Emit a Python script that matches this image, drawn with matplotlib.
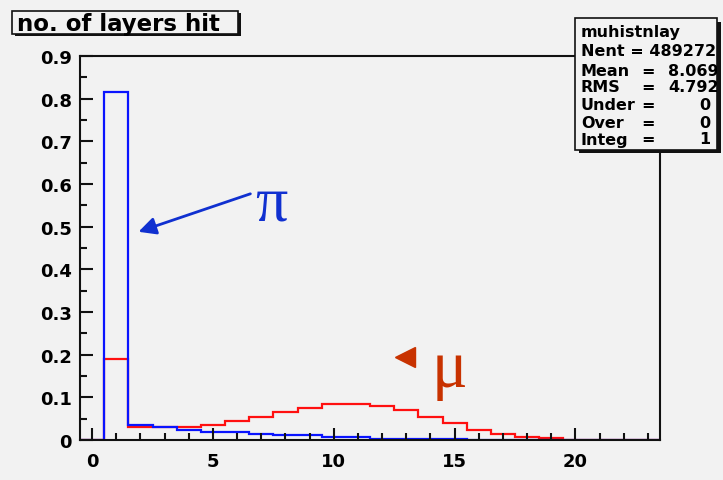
import matplotlib.pyplot as plt
from matplotlib.patches import Rectangle
from matplotlib.ticker import MultipleLocator
import numpy as np

# number of layers hit, bins centred on integers 0..23
bin_edges = np.arange(-0.5, 24.5, 1.0)
pion_frac = [0.0, 0.816, 0.035, 0.031, 0.023, 0.019, 0.019, 0.015, 0.011, 0.011,
             0.006, 0.006, 0.002, 0.002, 0.002, 0.002, 0.0, 0.0, 0.0, 0.0,
             0.0, 0.0, 0.0, 0.0]
muon_frac = [0.0, 0.190, 0.031, 0.030, 0.031, 0.035, 0.045, 0.053, 0.066, 0.074,
             0.084, 0.084, 0.079, 0.070, 0.054, 0.039, 0.023, 0.013, 0.008, 0.004,
             0.001, 0.0, 0.0, 0.0]

stat_names = ["Nent", "Mean", "RMS", "Under", "Over", "Integ"]
stat_values = ["489272", "8.069", "4.792", "0", "0", "1"]

bg = "#f2f2f2"
W, H = 723, 481
fig = plt.figure(figsize=(W / 100, H / 100), dpi=100, facecolor=bg)


def fx(px):
    return px / W


def fy(py):
    return 1 - py / H


ax = fig.add_axes([fx(80), fy(441), fx(660) - fx(80), fy(57) - fy(441)])
ax.set_facecolor(bg)

ax.stairs(muon_frac, bin_edges, color="#ff1010", lw=1.6, baseline=0)
ax.stairs(pion_frac, bin_edges, color="#0a14ff", lw=1.6, baseline=0)

ax.set_xlim(-0.5, 23.5)
ax.set_ylim(0, 0.9)
ax.xaxis.set_major_locator(MultipleLocator(5))
ax.xaxis.set_minor_locator(MultipleLocator(1))
ax.yaxis.set_major_locator(MultipleLocator(0.1))
ax.yaxis.set_minor_locator(MultipleLocator(0.05))
ax.yaxis.set_major_formatter(lambda v, p: "0" if abs(v) < 1e-9 else f"{v:.1f}")

ax.tick_params(which="both", direction="in", width=1.5, color="#111111",
               top=False, right=False)
ax.tick_params(which="major", length=9)
ax.tick_params(which="minor", length=5)
ax.tick_params(axis="x", pad=9)
ax.tick_params(axis="y", pad=6)
for lab in ax.get_xticklabels() + ax.get_yticklabels():
    lab.set_fontweight("bold")
    lab.set_fontsize(13)
for sp in ax.spines.values():
    sp.set_linewidth(1.5)
    sp.set_color("#111111")

# particle labels
ax.annotate("", xy=(1.92, 0.488), xytext=(6.55, 0.577),
            arrowprops=dict(arrowstyle="-|>", color="#1030d0", lw=2,
                            mutation_scale=26, shrinkA=0, shrinkB=0))
ax.text(7.42, 0.551, "π", color="#1030d0", fontsize=46, family="Liberation Serif",
        ha="center", va="center")
ax.plot([12.95], [0.195], marker="<", ms=15, color="#c83200", clip_on=False)
ax.text(14.8, 0.165, "μ", color="#c83200", fontsize=48, family="Liberation Serif",
        ha="center", va="center")

# title box
fig.patches.append(Rectangle((fx(15), fy(37)), fx(241) - fx(15), fy(14) - fy(37),
                             transform=fig.transFigure, facecolor="#111111",
                             edgecolor="none", zorder=4))
fig.patches.append(Rectangle((fx(12), fy(35)), fx(238) - fx(12), fy(12) - fy(35),
                             transform=fig.transFigure, facecolor=bg,
                             edgecolor="#111111", lw=1.2, zorder=5))
fig.text(fx(17), fy(24), "no. of layers hit", fontsize=16.5, fontweight="bold",
         va="center", ha="left", zorder=6)

# statistics box
fig.patches.append(Rectangle((fx(579), fy(154)), fx(721) - fx(579), fy(23) - fy(154),
                             transform=fig.transFigure, facecolor="#111111",
                             edgecolor="none", zorder=4))
stat_box = Rectangle((fx(575), fy(151)), fx(717) - fx(575), fy(19) - fy(151),
                     transform=fig.transFigure, facecolor=bg,
                     edgecolor="#111111", lw=1.2, zorder=5)
fig.patches.append(stat_box)

kw = dict(fontsize=11.5, fontweight="bold", va="center", zorder=6)
fig.text(fx(581), fy(32), "muhistnlay", ha="left", **kw)
rows_y = [51, 71, 88, 106, 123, 140]
for name, val, py in zip(stat_names, stat_values, rows_y):
    if name == "Nent":
        t = fig.text(fx(581), fy(py), f"{name} = {val}", ha="left", **kw)
        t.set_clip_path(stat_box)
        continue
    fig.text(fx(581), fy(py), name, ha="left", **kw)
    fig.text(fx(648), fy(py), "=", ha="center", **kw)
    if name in ("Mean", "RMS"):
        t = fig.text(fx(668), fy(py), val, ha="left", **kw)
        t.set_clip_path(stat_box)
    else:
        fig.text(fx(710), fy(py), val, ha="right", **kw)

fig.savefig("out.png", dpi=100, facecolor=bg)
